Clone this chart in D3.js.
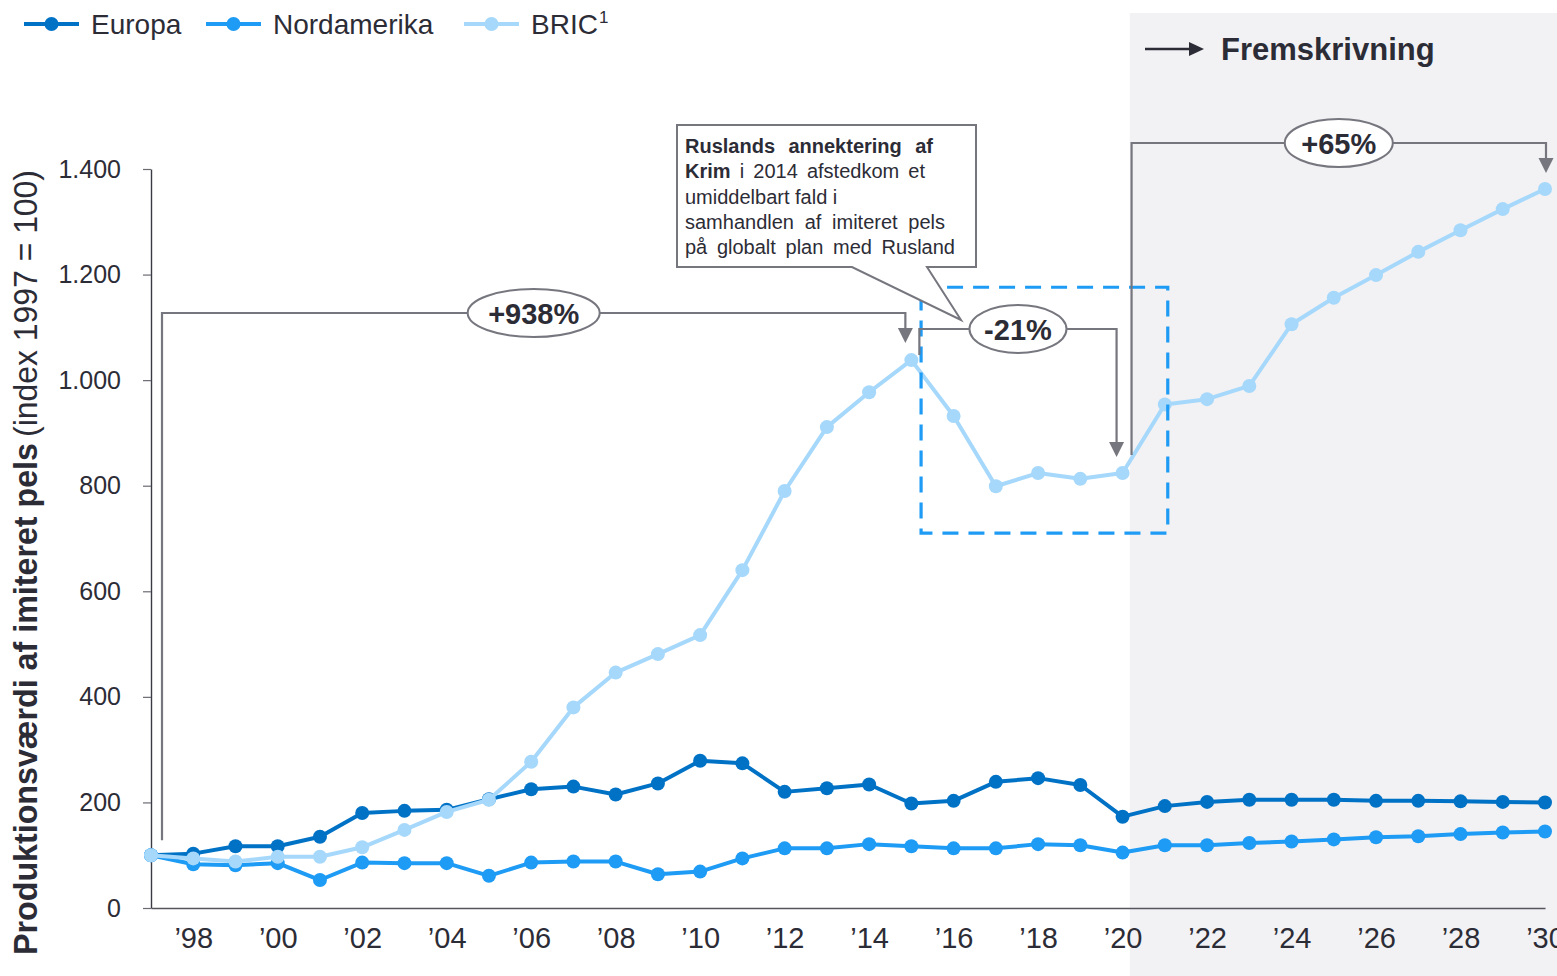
<!DOCTYPE html>
<html>
<head>
<meta charset="utf-8">
<script src="https://cdn.jsdelivr.net/npm/d3@7"></script>
<style>
  html, body { margin: 0; padding: 0; background: #ffffff; }
  svg { display: block; font-family: "Liberation Sans", Arial, sans-serif; }
</style>
</head>
<body>
<svg id="chart" width="1557" height="976"></svg>
<script>
// ---------------- DATA ----------------
const years = d3.range(1997, 2031);
const europa = [100, 103, 117, 117, 135, 180, 184, 186, 206, 225, 230, 215, 236, 279, 274, 220, 227, 234, 198, 203, 239, 246, 233, 173, 193, 201, 205, 205, 205, 203, 203, 202, 201, 200];
const nordamerika = [100, 83, 81, 85, 53, 86, 85, 85, 61, 86, 88, 88, 64, 69, 94, 113, 113, 121, 117, 113, 113, 121, 119, 105, 119, 119, 123, 126, 130, 134, 136, 140, 143, 145];
const bric = [100, 94, 88, 97, 97, 115, 148, 182, 205, 277, 380, 446, 481, 517, 640, 790, 911, 977, 1038, 932, 799, 824, 813, 824, 954, 964, 989, 1106, 1156, 1199, 1243, 1284, 1324, 1362];
const seriesNames = ["Europa", "Nordamerika", "BRIC"];
const yTicks = [0, 200, 400, 600, 800, 1000, 1200, 1400];
const xTicks = d3.range(1998, 2031, 2);
const forecastStart = 2020.17;
const changeLabels = ["+938%", "-21%", "+65%"];
const calloutLines = [
  [{t: "Ruslands annektering af", b: true}],
  [{t: "Krim", b: true}, {t: " i 2014 afstedkom et", b: false}],
  [{t: "umiddelbart fald i", b: false}],
  [{t: "samhandlen af imiteret pels", b: false}],
  [{t: "på globalt plan med Rusland", b: false}]
];
const dashBox = {x0: 2015.23, x1: 2021.07, v0: 710, v1: 1176};

// ---------------- STYLE ----------------
const colors = {Europa: "#0072C6", Nordamerika: "#1E9BF4", BRIC: "#A6D8FB"};
const textCol = "#2C2C36";
const annoCol = "#76767F";

const svg = d3.select("#chart");
const W = 1557, H = 976;

const x = d3.scaleLinear().domain([1997, 2030]).range([151, 1545]);
const y = d3.scaleLinear().domain([0, 1400]).range([908, 169]);

// forecast shading
svg.append("rect")
  .attr("x", x(forecastStart)).attr("y", 13)
  .attr("width", W - x(forecastStart)).attr("height", H - 13)
  .attr("fill", "#F2F2F4");

// Fremskrivning label
svg.append("line").attr("x1", 1145).attr("x2", 1192).attr("y1", 49).attr("y2", 49)
  .attr("stroke", textCol).attr("stroke-width", 2.5);
svg.append("path").attr("d", "M1189,42 L1204,49 L1189,56 Z").attr("fill", textCol);
svg.append("text").attr("x", 1221).attr("y", 60)
  .attr("font-size", 31).attr("font-weight", "bold").attr("fill", textCol)
  .text("Fremskrivning");

// axes
const yAxis = d3.axisLeft(y).tickValues(yTicks).tickSize(8).tickSizeOuter(0).tickPadding(22)
  .tickFormat(d => d3.format(",")(d).replace(/,/g, "."));
const gy = svg.append("g").attr("transform", `translate(${x(1997)},0)`).call(yAxis);
gy.select(".domain").attr("stroke", "#3A3A44").attr("stroke-width", 1.4);
gy.selectAll(".tick line").attr("stroke", "#6A6A72").attr("stroke-width", 1.2);
gy.selectAll(".tick text").attr("font-size", 25).attr("fill", textCol)
  .attr("font-family", "Liberation Sans, Arial, sans-serif");

const xAxis = d3.axisBottom(x).tickValues(xTicks).tickSize(0).tickSizeOuter(0).tickPadding(19)
  .tickFormat(d => "\u2019" + String(d).slice(2));
const gx = svg.append("g").attr("transform", `translate(0,${y(0)})`).call(xAxis);
gx.select(".domain").attr("stroke", "#55555E").attr("stroke-width", 1.4);
gx.selectAll(".tick text").attr("font-size", 29).attr("fill", textCol)
  .attr("font-family", "Liberation Sans, Arial, sans-serif");

// y-axis title
const yt1 = svg.append("text")
  .attr("transform", "translate(37,955) rotate(-90)")
  .attr("font-size", 33).attr("font-weight", "bold").attr("fill", textCol)
  .attr("textLength", 512).attr("lengthAdjust", "spacingAndGlyphs")
  .text("Produktionsværdi af imiteret pels");
const yt2 = svg.append("text")
  .attr("transform", "translate(37,437) rotate(-90)")
  .attr("font-size", 33).attr("fill", textCol)
  .attr("textLength", 267).attr("lengthAdjust", "spacingAndGlyphs")
  .text("(index 1997 = 100)");

// lines
const seriesData = [europa, nordamerika, bric];
const line = d3.line().x((d, i) => x(years[i])).y(d => y(d));
seriesNames.forEach((name, si) => {
  const g = svg.append("g");
  g.append("path").datum(seriesData[si])
    .attr("d", line).attr("fill", "none")
    .attr("stroke", colors[name]).attr("stroke-width", 4).attr("stroke-linejoin", "round");
  g.selectAll("circle").data(seriesData[si]).join("circle")
    .attr("cx", (d, i) => x(years[i])).attr("cy", d => y(d)).attr("r", 7)
    .attr("fill", colors[name]);
});

// dashed box
svg.append("rect")
  .attr("x", x(dashBox.x0)).attr("y", y(dashBox.v1))
  .attr("width", x(dashBox.x1) - x(dashBox.x0)).attr("height", y(dashBox.v0) - y(dashBox.v1))
  .attr("fill", "none").attr("stroke", "#1E9BF4").attr("stroke-width", 3.2)
  .attr("stroke-dasharray", "16,10");

// brackets
function bracket(xl, yl0, yTop, xr, tipY, label, rx) {
  const g = svg.append("g");
  g.append("path")
    .attr("d", `M${xl},${yl0} V${yTop} H${xr} V${tipY - 13}`)
    .attr("fill", "none").attr("stroke", annoCol).attr("stroke-width", 2.2);
  g.append("path")
    .attr("d", `M${xr - 7.5},${tipY - 15} L${xr + 7.5},${tipY - 15} L${xr},${tipY} Z`)
    .attr("fill", annoCol);
  const cx = (xl + xr) / 2;
  g.append("ellipse").attr("cx", cx).attr("cy", yTop).attr("rx", rx).attr("ry", 24)
    .attr("fill", "#ffffff").attr("stroke", annoCol).attr("stroke-width", 2);
  g.append("text").attr("x", cx).attr("y", yTop + 10.5).attr("text-anchor", "middle")
    .attr("font-size", 29).attr("font-weight", "bold").attr("fill", textCol).text(label);
}
const iOf = yr => years.indexOf(yr);
bracket(x(1997) + 11, y(bric[iOf(1997)]) - 15, 313, x(2015) - 6, y(bric[iOf(2015)]) - 17, changeLabels[0], 66);
bracket(x(2015) + 8, y(bric[iOf(2015)]) - 5, 329, x(2020) - 6, y(bric[iOf(2020)]) - 16, changeLabels[1], 48.5);
bracket(x(2020) + 9, y(bric[iOf(2020)]) - 18, 143, x(2030) + 1, y(bric[iOf(2030)]) - 16, changeLabels[2], 54);

// callout box
svg.append("path")
  .attr("d", "M677,125 H976 V267 H927 L961,320 L852,267 H677 Z")
  .attr("fill", "#ffffff").attr("stroke", annoCol).attr("stroke-width", 2);
const lineTargets = [933, 925, null, 945, 955];
calloutLines.forEach((parts, li) => {
  const t = svg.append("text").attr("x", 685).attr("y", 153 + li * 25.3)
    .attr("font-size", 20).attr("fill", textCol);
  parts.forEach(p => t.append("tspan").attr("font-weight", p.b ? "bold" : "normal").text(p.t));
  if (lineTargets[li] != null) {
    const nat = t.node().getComputedTextLength();
    const full = parts.map(p => p.t).join("");
    const spaces = (full.match(/ /g) || []).length;
    if (spaces > 0) t.attr("word-spacing", (lineTargets[li] - 685 - nat) / spaces);
  }
});

// legend
const legX = [24, 206, 464];
seriesNames.forEach((name, i) => {
  const g = svg.append("g").attr("transform", `translate(${legX[i]},24)`);
  g.append("line").attr("x1", 0).attr("x2", 55).attr("stroke", colors[name]).attr("stroke-width", 4);
  g.append("circle").attr("cx", 27.5).attr("r", 7).attr("fill", colors[name]);
  const t = g.append("text").attr("x", 67).attr("y", 10).attr("font-size", 28).attr("fill", textCol).text(name);
  if (name === "BRIC") {
    t.append("tspan").attr("font-size", 17).attr("dy", -11).attr("dx", 1).text("1");
  }
});
</script>
</body>
</html>
